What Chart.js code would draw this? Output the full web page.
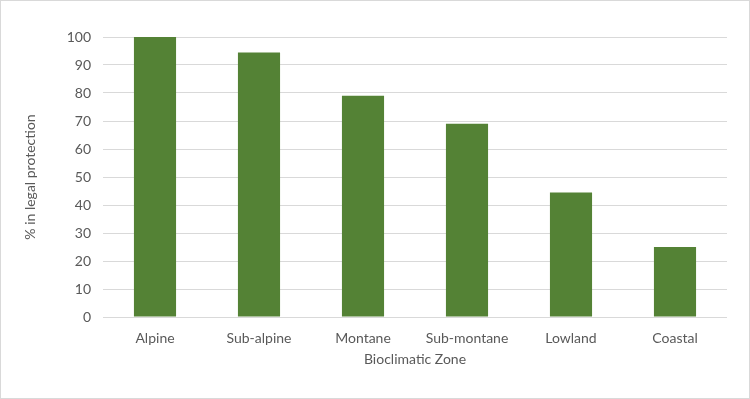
<!DOCTYPE html>
<html>
<head>
<meta charset="utf-8">
<script src="https://cdn.jsdelivr.net/npm/chart.js@4"></script>
<style>
  html, body { margin: 0; padding: 0; background: #fff; }
  .frame { width: 750px; height: 399px; box-sizing: border-box; border: 1px solid #d9d9d9; position: relative; }
</style>
</head>
<body>
<div class="frame"><canvas id="chart"></canvas></div>
<script>
// data
const zones = ['Alpine', 'Sub-alpine', 'Montane', 'Sub-montane', 'Lowland', 'Coastal'];
const protectedPct = [100, 94.5, 79, 69, 44.5, 25];
const yTitle = '% in legal protection';
const xTitle = 'Bioclimatic Zone';

const textColor = '#595959';
const gridColor = '#d9d9d9';
const font = { family: 'Lato', size: 14 };

new Chart(document.getElementById('chart').getContext('2d'), {
    type: 'bar',
    data: {
        labels: zones,
        datasets: [{
            label: yTitle,
            data: protectedPct,
            backgroundColor: '#548235',
            borderWidth: 0,
            categoryPercentage: 1,
            barPercentage: 0.405
        }]
    },
    options: {
        responsive: true,
        maintainAspectRatio: false,
        animation: false,
        layout: {
            padding: { top: 36, right: 22, bottom: 20, left: 0 }
        },
        plugins: {
            legend: { display: false },
            tooltip: { enabled: false }
        },
        scales: {
            x: {
                grid: { display: false },
                border: { display: false },
                ticks: { color: textColor, font: font, padding: 5 },
                title: {
                    display: true,
                    text: xTitle,
                    color: textColor,
                    font: font,
                    padding: { top: 0, bottom: 10 }
                },
                afterFit: function(scale) { scale.height = 61; }
            },
            y: {
                min: 0,
                max: 100,
                grid: { color: gridColor, drawTicks: false },
                border: { display: false },
                ticks: { stepSize: 10, color: textColor, font: font, padding: 12 },
                title: {
                    display: true,
                    text: yTitle,
                    color: textColor,
                    font: font,
                    padding: { top: 21, bottom: 0 }
                },
                afterFit: function(scale) { scale.width = 102; }
            }
        }
    }
});
</script>
</body>
</html>
